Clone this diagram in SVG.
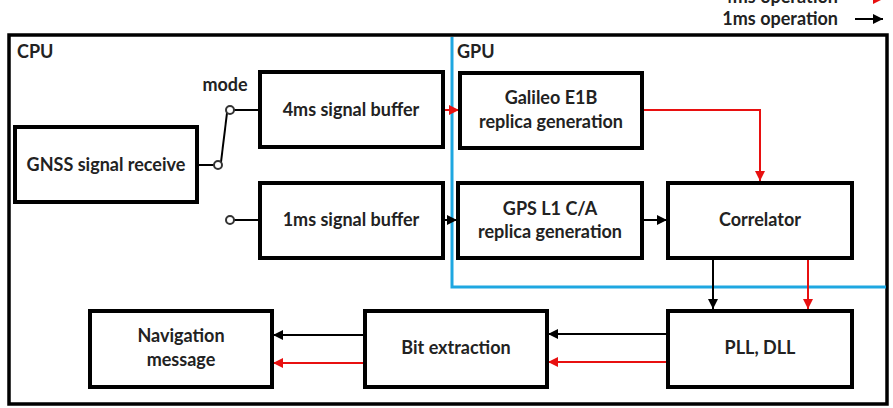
<svg xmlns="http://www.w3.org/2000/svg" width="893" height="408" viewBox="0 0 893 408">
<defs>
<style>
text{font-family:Lato,"Open Sans","Liberation Sans",sans-serif;font-weight:bold;font-size:18px;fill:#222;}
.c{text-anchor:middle;}
.box{fill:#fff;stroke:#000;stroke-width:4;}
.k{stroke:#000;stroke-width:2;fill:none;}
.r{stroke:#e81010;stroke-width:2;fill:none;}
.sw{stroke:#333;stroke-width:2;fill:#fff;}
</style>
<marker id="ak" viewBox="0 0 10 10" refX="10" refY="5" markerWidth="10" markerHeight="10" markerUnits="userSpaceOnUse" orient="auto"><path d="M0,0 L10,5 L0,10 z" fill="#000"/></marker>
<marker id="ar" viewBox="0 0 10 10" refX="10" refY="5" markerWidth="10" markerHeight="10" markerUnits="userSpaceOnUse" orient="auto"><path d="M0,0 L10,5 L0,10 z" fill="#e81010"/></marker>
</defs>
<rect width="893" height="408" fill="#fff"/>
<g id="legend">
<text x="838" y="3" text-anchor="end">4ms operation</text>
<line class="r" x1="855" y1="-1" x2="883" y2="-1" marker-end="url(#ar)"/>
<text x="838" y="25" text-anchor="end">1ms operation</text>
<line class="k" x1="855" y1="19" x2="883" y2="19" marker-end="url(#ak)"/>
</g>
<g id="cpu">
<rect x="9" y="35" width="878" height="369" fill="none" stroke="#000" stroke-width="3.5"/>
<text x="17" y="58">CPU</text>
</g>
<g id="gpu">
<path d="M452,37 V287 H886" fill="none" stroke="#1ea7e1" stroke-width="3"/>
<text x="457" y="58">GPU</text>
</g>
<g id="connectors">
<line class="k" x1="197" y1="165" x2="214" y2="165"/>
<line class="k" x1="221" y1="162" x2="227" y2="113"/>
<line class="k" x1="234" y1="110" x2="260" y2="110"/>
<line class="k" x1="234" y1="220" x2="260" y2="220"/>
<circle class="sw" cx="218" cy="165" r="4"/>
<circle class="sw" cx="230" cy="110" r="4"/>
<circle class="sw" cx="230" cy="220" r="4"/>
<line class="r" x1="443" y1="110" x2="459" y2="110" marker-end="url(#ar)"/>
<line class="k" x1="443" y1="220" x2="457" y2="220" marker-end="url(#ak)"/>
<polyline class="r" points="642,110 760,110 760,181" marker-end="url(#ar)"/>
<line class="k" x1="642" y1="220" x2="667" y2="220" marker-end="url(#ak)"/>
<line class="k" x1="713" y1="258" x2="713" y2="309" marker-end="url(#ak)"/>
<line class="r" x1="808" y1="258" x2="808" y2="309" marker-end="url(#ar)"/>
<line class="k" x1="668" y1="334" x2="548" y2="334" marker-end="url(#ak)"/>
<line class="r" x1="668" y1="362" x2="548" y2="362" marker-end="url(#ar)"/>
<line class="k" x1="365" y1="335" x2="273" y2="335" marker-end="url(#ak)"/>
<line class="r" x1="365" y1="363" x2="273" y2="363" marker-end="url(#ar)"/>
<text x="225" y="91" class="c">mode</text>
</g>
<g id="gnss"><rect class="box" x="15" y="127" width="182" height="75"/><text class="c" x="106" y="171">GNSS signal receive</text></g>
<g id="buf4"><rect class="box" x="260" y="72" width="183" height="75"/><text class="c" x="351" y="116">4ms signal buffer</text></g>
<g id="buf1"><rect class="box" x="260" y="183" width="183" height="75"/><text class="c" x="351" y="226">1ms signal buffer</text></g>
<g id="galileo"><rect class="box" x="460" y="73" width="182" height="75"/><text class="c" x="551" y="104">Galileo E1B</text><text class="c" x="551" y="128">replica generation</text></g>
<g id="gps"><rect class="box" x="458" y="183" width="184" height="75"/><text class="c" x="550" y="215">GPS L1 C/A</text><text class="c" x="550" y="238">replica generation</text></g>
<g id="correlator"><rect class="box" x="668" y="183" width="184" height="75"/><text class="c" x="760" y="226">Correlator</text></g>
<g id="pll"><rect class="box" x="668" y="311" width="184" height="76"/><text class="c" x="760" y="354">PLL, DLL</text></g>
<g id="bit"><rect class="box" x="365" y="311" width="182" height="76"/><text class="c" x="456" y="354">Bit extraction</text></g>
<g id="nav"><rect class="box" x="90" y="311" width="182" height="76"/><text class="c" x="181" y="342">Navigation</text><text class="c" x="181" y="366">message</text></g>
</svg>
